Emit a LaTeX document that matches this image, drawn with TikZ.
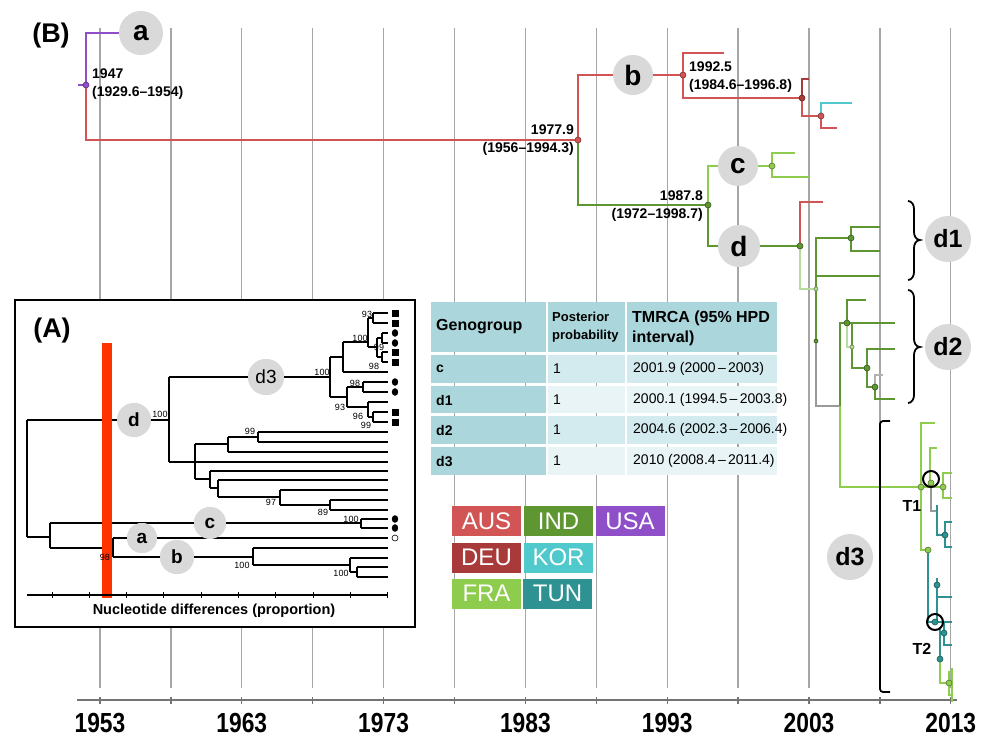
\documentclass[tikz,border=0pt]{standalone}
\usepackage{fontspec}
\setmainfont{Liberation Sans}
\newcommand\fsz[2]{\fontsize{#1}{#2}\selectfont}
\definecolor{cUSA}{HTML}{8E4FC8}
\definecolor{cAUS}{HTML}{D25555}
\definecolor{cDEU}{HTML}{A83A3A}
\definecolor{cIND}{HTML}{5E9632}
\definecolor{cFRA}{HTML}{8DCC4C}
\definecolor{cKOR}{HTML}{4FC9CB}
\definecolor{cTUN}{HTML}{2E9292}
\definecolor{gridc}{HTML}{A6A6A6}
\definecolor{labc}{HTML}{D9D9D9}
\definecolor{thead}{HTML}{ABD7DC}
\definecolor{trowa}{HTML}{D3EBEE}
\definecolor{trowb}{HTML}{E8F4F5}
\definecolor{redbar}{HTML}{FF3300}
\definecolor{palec}{HTML}{B8DC9E}
\newcommand\tdot[3][3pt]{\filldraw[fill=#2, draw=#2!60!black, line width=0.6pt] (#3) circle (#1);}
\begin{document}
\begin{tikzpicture}[x=1pt,y=-1pt,
  br/.style={line width=2pt},
  gl/.style={draw=gridc, line width=1.3pt},
  itr/.style={line width=1.6pt, black},
  biglbl/.style={circle, fill=labc, inner sep=0pt, minimum size=42pt, font=\fsz{28}{30}\bfseries},
  grplbl/.style={circle, fill=labc, inner sep=0pt, minimum size=46pt, font=\fsz{25}{28}\bfseries},
  smlbl/.style={circle, fill=labc, inner sep=0pt, font=\fsz{19}{21}\bfseries},
  datelbl/.style={font=\fsz{14}{18}\bfseries, inner sep=0pt},
  boot/.style={font=\fsz{9}{10}, inner sep=0pt},
  ctext/.style={font=\fsz{14}{16}, anchor=west, inner sep=0pt},
  legbox/.style={inner sep=0pt, minimum width=69pt, minimum height=30pt, text=white, font=\fsz{24}{26}},
  yearlbl/.style={font=\fsz{24}{26}\bfseries, inner sep=0pt},
  brk/.style={line width=1.8pt, black}
]
\useasboundingbox (0,0) rectangle (993,742);
\fill[white] (0,0) rectangle (993,742);

% grid lines and axis
\foreach \k in {0,...,12}{
  \draw[gl] ({100+70.9*\k},28) -- ({100+70.9*\k},688);
  \draw[line width=1.3pt, gridc!70!black] ({100+70.9*\k},697) -- ({100+70.9*\k},704);
}
\draw[line width=1.5pt, gridc!70!black] (77,700) -- (957,700);
\foreach \k/\yr in {0/1953,2/1963,4/1973,6/1983,8/1993,10/2003,12/2013}{
  \node[yearlbl] (yr\yr) at ({100+70.9*\k},723) {\scalebox{0.95}[1.15]{\yr}};
}

% ---------- inset (A) ----------
\draw[line width=1.5pt, fill=white] (15,300) rectangle (415,627);
\node[font=\fsz{27}{30}\bfseries, inner sep=0pt] (Alab) at (52,331) {(A)};

% inset tree
\draw[itr] (27,420) -- (27,537);
\node[smlbl, minimum size=34pt] (iD) at (134,420) {d};
\draw[itr] (27,420) -- (iD) -- (169,420);
\draw[itr] (169,377) -- (169,462);
\node[smlbl, minimum size=36pt, font=\fsz{19}{21}] (iD3) at (266,377) {d3};
\draw[itr] (169,377) -- (iD3) -- (330,377);
\draw[itr] (330,357) -- (330,397);
\draw[itr] (330,357) -- (343,357) (343,342) -- (343,372) (343,372) -- (388,372);
\draw[itr] (343,342) -- (368,342) (368,318) -- (368,347);
\draw[itr] (368,318) -- (373,318) (373,313) -- (373,323) (373,313) -- (388,313) (373,323) -- (388,323);
\draw[itr] (368,347) -- (377,347) (377,338) -- (377,357);
\draw[itr] (377,338) -- (382,338) (382,333) -- (382,343) (382,333) -- (388,333) (382,343) -- (388,343);
\draw[itr] (377,357) -- (382,357) (382,352) -- (382,362) (382,352) -- (388,352) (382,362) -- (388,362);
\draw[itr] (330,397) -- (347,397) (347,387) -- (347,407);
\draw[itr] (347,387) -- (363,387) (363,382) -- (363,392) (363,382) -- (388,382) (363,392) -- (388,392);
\draw[itr] (347,407) -- (368,407) (368,402) -- (368,417) (368,402) -- (388,402);
\draw[itr] (368,417) -- (373,417) (373,412) -- (373,422) (373,412) -- (388,412) (373,422) -- (388,422);
% middle group
\draw[itr] (169,462) -- (388,462);
\draw[itr] (195,444) -- (195,479);
\draw[itr] (195,444) -- (228,444) (228,437) -- (228,452) (228,452) -- (388,452);
\draw[itr] (228,437) -- (258,437) (258,432) -- (258,442) (258,432) -- (388,432) (258,442) -- (388,442);
\draw[itr] (195,479) -- (210,479) (210,471) -- (210,488) (210,471) -- (388,471);
\draw[itr] (210,488) -- (218,488) (218,480) -- (218,497) (218,480) -- (388,480);
\draw[itr] (218,497) -- (280,497) (280,490) -- (280,505) (280,490) -- (388,490);
\draw[itr] (280,505) -- (330,505) (330,500) -- (330,510) (330,500) -- (388,500) (330,510) -- (388,510);
% bottom group
\draw[itr] (27,537) -- (50,537) (50,523) -- (50,548);
\node[smlbl, minimum size=32pt] (iC) at (210,523) {c};
\draw[itr] (50,523) -- (iC) -- (361,523);
\draw[itr] (361,519) -- (361,528) (361,519) -- (388,519) (361,528) -- (388,528);
\draw[itr] (50,548) -- (113,548) (113,538) -- (113,557);
\node[smlbl, minimum size=30pt] (iA) at (142,538) {a};
\draw[itr] (113,538) -- (iA) -- (388,538);
\node[smlbl, minimum size=34pt] (iB) at (177,557) {b};
\draw[itr] (113,557) -- (iB) -- (253,557);
\draw[itr] (253,548) -- (253,565) (253,548) -- (388,548);
\draw[itr] (253,565) -- (350,565) (350,558) -- (350,572) (350,558) -- (388,558);
\draw[itr] (350,572) -- (357,572) (357,567) -- (357,577) (357,567) -- (388,567) (357,577) -- (388,577);
% re-draw labels over lines
\node[smlbl, minimum size=34pt] at (iD) {d};
\node[smlbl, minimum size=36pt, font=\fsz{19}{21}] at (iD3) {d3};
\node[smlbl, minimum size=32pt] at (iC) {c};
\node[smlbl, minimum size=30pt] at (iA) {a};
\node[smlbl, minimum size=34pt] at (iB) {b};
% markers
\foreach \yy in {313,323,352,362,412,422}{\fill (392,{\yy-3.5}) rectangle (398.5,{\yy+3.5});}
\foreach \yy in {333,343,382,392,519,528}{\fill (395,\yy) ellipse (3.2pt and 3.8pt);}
\draw[line width=0.6pt] (395,538) ellipse (3pt and 3pt);
% red bar
\fill[redbar] (102,343) rectangle (112,598);
% bootstrap labels
\node[boot] (b1) at (160,414) {100};
\node[boot] (b2) at (322,372) {100};
\node[boot] (b3) at (367,314) {93};
\node[boot] (b4) at (360,338) {100};
\node[boot] (b5) at (379,347) {99};
\node[boot] (b6) at (374,366) {98};
\node[boot] (b7) at (355,383) {98};
\node[boot] (b8) at (340,407) {93};
\node[boot] (b9) at (358,416) {96};
\node[boot] (b10) at (366,425) {99};
\node[boot] (b11) at (250,431) {99};
\node[boot] (b12) at (271,502) {97};
\node[boot] (b13) at (323,512) {89};
\node[boot] (b14) at (351,519) {100};
\node[boot] (b15) at (242,565) {100};
\node[boot] (b16) at (341,573) {100};
\node[boot] (b17) at (105,557) {98};
% inset axis
\draw[line width=1.2pt] (27,595) -- (388,595);
\foreach \k in {0,...,9}{\draw[line width=1pt] ({52+37.33*\k},592) -- ({52+37.33*\k},598);}
\node[font=\fsz{14.5}{16}\bfseries, inner sep=0pt] (ax) at (214,611) {Nucleotide differences (proportion)};

% ---------- table ----------
\fill[thead] (431,302) rectangle (546,352);
\fill[thead] (548,302) rectangle (625,352);
\fill[thead] (627,302) rectangle (777,352);
\foreach \ya/\yb/\cc in {355/383/trowa,386/413/trowb,416/444/trowa,447/475/trowb}{
  \fill[thead] (431,\ya) rectangle (546,\yb);
  \fill[\cc] (548,\ya) rectangle (625,\yb);
  \fill[\cc] (627,\ya) rectangle (777,\yb);
}
\node[ctext, font=\fsz{16}{18}\bfseries] (h1) at (436,327) {Genogroup};
\node[ctext, font=\fsz{13}{18}\bfseries, align=left] (h2) at (552,327) {Posterior\\probability};
\node[ctext, font=\fsz{16}{20}\bfseries, align=left] (h3) at (632,328) {TMRCA (95\% HPD\\interval)};
\node[ctext, font=\fsz{14}{16}\bfseries] (r1a) at (436,369) {c};
\node[ctext] (r1b) at (553,369) {1};
\node[ctext] (r1c) at (633,369) {2001.9 (2000\,–\,2003)};
\node[ctext, font=\fsz{14}{16}\bfseries] (r2a) at (436,400) {d1};
\node[ctext] (r2b) at (553,400) {1};
\node[ctext] (r2c) at (633,400) {2000.1 (1994.5\,–\,2003.8)};
\node[ctext, font=\fsz{14}{16}\bfseries] (r3a) at (436,430) {d2};
\node[ctext] (r3b) at (553,430) {1};
\node[ctext] (r3c) at (633,430) {2004.6 (2002.3\,–\,2006.4)};
\node[ctext, font=\fsz{14}{16}\bfseries] (r4a) at (436,461) {d3};
\node[ctext] (r4b) at (553,461) {1};
\node[ctext] (r4c) at (633,461) {2010 (2008.4\,–\,2011.4)};

% ---------- legend ----------
\node[legbox, fill=cAUS] (lAUS) at (486.5,521) {AUS};
\node[legbox, fill=cIND] (lIND) at (558.5,521) {IND};
\node[legbox, fill=cUSA] (lUSA) at (630,521) {USA};
\node[legbox, fill=cDEU] (lDEU) at (486.5,557.5) {DEU};
\node[legbox, fill=cKOR] (lKOR) at (558.5,557.5) {KOR};
\node[legbox, fill=cFRA] (lFRA) at (486.5,593.5) {FRA};
\node[legbox, fill=cTUN] (lTUN) at (557.5,593.5) {TUN};

% ---------- main tree (B) ----------
\node[font=\fsz{27}{30}\bfseries, inner sep=0pt] (Blab) at (51,36) {(B)};
\node[biglbl, minimum size=44pt] (La) at (141,33) {a};
\node[biglbl, minimum size=40pt] (Lb) at (633,75) {b};
\node[biglbl, minimum size=40pt] (Lc) at (738,166) {c};
\node[biglbl] (Ld) at (739,246) {d};

\coordinate (n1947) at (86,85);
\coordinate (n1977) at (578,140);
\coordinate (n1992) at (683,75);
\coordinate (n1996) at (802,98);
\coordinate (n2000) at (821,116);
\coordinate (n1987) at (708,205);
\coordinate (nc) at (772,166);
\coordinate (nd) at (800,246);

\draw[br, cUSA] (78,85) -- (n1947) |- (La.west);
\draw[br, cAUS] (n1947) |- (n1977);
\draw[br, cAUS] (n1977) |- (Lb.west);
\draw[br, cAUS] (Lb.east) -- (n1992);
\draw[br, cAUS] (724,53) -| (n1992) |- (n1996);
\draw[br, cDEU] (809,79) -| (n1996);
\draw[br, cAUS] (n1996) |- (n2000);
\draw[br, cKOR] (n2000) |- (852,103);
\draw[br, cAUS] (n2000) |- (837,128);

\draw[br, cIND] (n1977) |- (n1987);
\draw[br, cFRA] (n1987) |- (Lc.west);
\draw[br, cFRA] (Lc.east) -- (nc);
\draw[br, cFRA] (795,153) -| (nc) |- (809,177);
\draw[br, cIND] (n1987) |- (Ld.west);
\draw[br, cIND] (Ld.east) -- (nd);
\draw[br, cAUS] (nd) |- (823,202);
\draw[br, palec] (nd) |- (816,289);

% d1 / d2 area
\coordinate (nd1) at (851,238);
\coordinate (nx) at (816,341);
\coordinate (n840) at (840,406);
\coordinate (nd2) at (847,323);
\coordinate (nA) at (867,368);
\coordinate (nB) at (875,387);
\draw[br, cIND] (nx) -- (816,238) -- (nd1);
\draw[br, cIND] (880,227) -| (nd1) |- (880,251);
\draw[br, cIND] (816,276) -- (880,276);
\draw[br, gray!80] (nx) |- (n840);
\draw[br, cIND] (nd2) -- (840,323) -- (n840);
\draw[br, cIND] (866,300) -| (nd2) -- (895,323);
\draw[br, palec] (nd2) |- (852,347);
\draw[br, cIND] (852,323) |- (nA);
\draw[br, cIND] (895,349) -| (nA) |- (nB);
\draw[br, gray!60] (nB) |- (883,375);
\draw[br, cIND] (nB) |- (895,399);

% d3 area
\coordinate (nT1) at (921,487);
\coordinate (nT1b) at (943,487);
\coordinate (nT2a) at (928,550);
\coordinate (nF) at (945,535);
\coordinate (nT2) at (935,622);
\coordinate (nG) at (944,633);
\coordinate (nH) at (940,659);
\coordinate (nI) at (949,683);
\draw[br, cFRA] (n840) |- (nT1);
\draw[br, cFRA] (935,423) -| (nT1) |- (nT2a);
\draw[br, cFRA] (937,448) -| (930,487);
\draw[br, cFRA] (nT1) -- (nT1b);
\draw[br, cFRA] (952,473) -| (nT1b) |- (952,498);
\draw[br, gray!80] (931,487) |- (937,511);
\draw[br, cTUN] (937,505) |- (nF);
\draw[br, cTUN] (952,522) -| (nF) |- (952,547);
\draw[br, cTUN] (nT2a) |- (952,622);
\draw[br, cTUN] (937,578) -- (937,622);
\draw[br, cTUN] (937,597) -- (952,597);
\draw[br, cTUN] (nG) -- (944,622);
\draw[br, cTUN] (nG) |- (952,645);
\draw[br, cTUN] (940,628) -- (nH);
\draw[br, cFRA] (nH) |- (nI);
\draw[br, cFRA] (952,672) -| (nI) |- (952,695);
\draw[br, cFRA] (952,668) -- (952,702);

% dots
\tdot{cUSA}{n1947}
\tdot{cAUS}{n1977}
\tdot{cAUS}{n1992}
\tdot{cDEU}{n1996}
\tdot{cAUS}{n2000}
\tdot{cIND}{n1987}
\tdot{cFRA}{nc}
\tdot{cIND}{nd}
\tdot[2pt]{palec}{816,289}
\tdot{cIND}{nd1}
\tdot[2pt]{cIND}{nx}
\tdot{cIND}{nd2}
\tdot[2pt]{palec}{852,347}
\tdot{cIND}{nA}
\tdot{cIND}{nB}
\tdot{cFRA}{nT1}
\tdot{cFRA}{nT1b}
\tdot{cFRA}{931,483}
\tdot{cFRA}{nT2a}
\tdot{cTUN}{nF}
\tdot{cTUN}{937,585}
\tdot{cTUN}{nT2}
\tdot{cTUN}{nG}
\tdot{cTUN}{nH}
\tdot{cFRA}{nI}

% T1 / T2 circles
\draw[line width=2pt] (931,479) circle (8pt);
\draw[line width=2pt] (935,622) circle (8pt);
\node[font=\fsz{16}{18}\bfseries, inner sep=0pt] (T1) at (912,506) {T1};
\node[font=\fsz{16}{18}\bfseries, inner sep=0pt] (T2) at (922,649) {T2};

% date labels
\node[datelbl, anchor=north west, align=left] (l1947) at (92,69) {1947\\(1929.6–1954)};
\node[datelbl, anchor=east, align=right] (l1977) at (574,140) {1977.9\\(1956–1994.3)};
\node[datelbl, anchor=west, align=left] (l1992) at (689,77) {1992.5\\(1984.6–1996.8)};
\node[datelbl, anchor=east, align=right] (l1987) at (703,206) {1987.8\\(1972–1998.7)};

% brackets
\draw[brk] (908,201) to[out=0,in=90] (914,209) -- (914,232) to[out=-90,in=180] (920,240) to[out=180,in=90] (914,248) -- (914,272) to[out=-90,in=0] (908,280);
\draw[brk] (908,290) to[out=0,in=90] (914,298) -- (914,339) to[out=-90,in=180] (920,347) to[out=180,in=90] (914,355) -- (914,395) to[out=-90,in=0] (908,403);
\draw[brk, rounded corners=3pt] (890,421) -- (880,421) -- (880,692) -- (890,692);
\node[grplbl] (Ld1) at (948,239) {d1};
\node[grplbl] (Ld2) at (948,347) {d2};
\node[grplbl] (Ld3) at (850,557) {d3};
\end{tikzpicture}
\end{document}
